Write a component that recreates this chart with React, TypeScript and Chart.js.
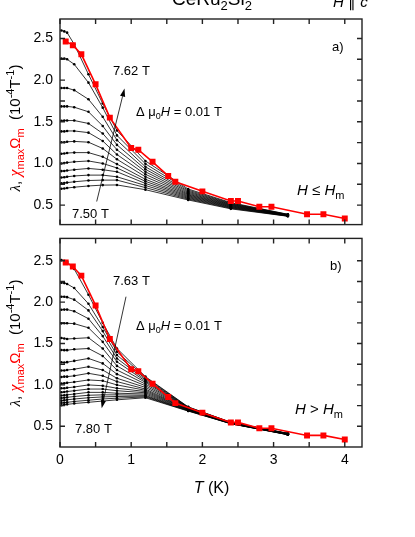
import React, { useEffect, useRef } from 'react';
import { Chart, registerables } from 'chart.js';
Chart.register(...registerables);

const SANS = '"Liberation Sans", Arial, sans-serif';
const SERIF = '"Liberation Serif", "DejaVu Serif", serif';

// temperatures (K) of the field-sweep curves
const T_POINTS = [0.02, 0.06, 0.1, 0.2, 0.4, 0.6, 0.8, 1.2, 1.8, 2.4, 3.2];

// red squares: chi_max * Omega_m
const RED_T = [0.08, 0.18, 0.3, 0.5, 0.7, 1.0, 1.1, 1.3, 1.52, 1.62, 2.0, 2.4, 2.5, 2.8, 2.97, 3.47, 3.7, 4.0];
const RED_TOP = [2.465, 2.42, 2.31, 1.95, 1.55, 1.185, 1.165, 1.02, 0.85, 0.78, 0.665, 0.55, 0.55, 0.48, 0.48, 0.39, 0.39, 0.34];
const RED_BOT = [2.48, 2.43, 2.32, 1.96, 1.555, 1.19, 1.165, 1.015, 0.853, 0.78, 0.665, 0.547, 0.547, 0.476, 0.476, 0.39, 0.39, 0.34];

// panel a) fields 7.50 ... 7.62 T
const FIELDS_TOP = ['7.50', '7.51', '7.52', '7.53', '7.54', '7.55', '7.56', '7.57', '7.58', '7.59', '7.60', '7.61', '7.62'];
const CURVES_TOP = [
  [0.696, 0.7, 0.705, 0.715, 0.73, 0.74, 0.742, 0.685, 0.562, 0.455, 0.366],
  [0.762, 0.765, 0.77, 0.78, 0.795, 0.8, 0.8, 0.71, 0.572, 0.462, 0.368],
  [0.831, 0.835, 0.84, 0.85, 0.86, 0.86, 0.84, 0.735, 0.582, 0.468, 0.37],
  [0.908, 0.91, 0.915, 0.925, 0.94, 0.925, 0.9, 0.76, 0.592, 0.474, 0.372],
  [1.0, 1.005, 1.01, 1.02, 1.03, 1.0, 0.946, 0.785, 0.602, 0.48, 0.374],
  [1.116, 1.12, 1.125, 1.13, 1.13, 1.08, 0.992, 0.81, 0.612, 0.486, 0.376],
  [1.254, 1.255, 1.26, 1.265, 1.255, 1.18, 1.05, 0.84, 0.622, 0.492, 0.378],
  [1.385, 1.385, 1.39, 1.39, 1.37, 1.27, 1.107, 0.87, 0.632, 0.498, 0.38],
  [1.512, 1.515, 1.515, 1.515, 1.48, 1.36, 1.165, 0.9, 0.643, 0.504, 0.382],
  [1.685, 1.685, 1.685, 1.675, 1.62, 1.45, 1.223, 0.93, 0.655, 0.51, 0.384],
  [1.905, 1.905, 1.905, 1.88, 1.77, 1.56, 1.28, 0.96, 0.667, 0.516, 0.386],
  [2.26, 2.26, 2.25, 2.19, 1.97, 1.67, 1.337, 0.995, 0.68, 0.523, 0.388],
  [2.596, 2.585, 2.57, 2.43, 2.07, 1.72, 1.395, 1.03, 0.693, 0.53, 0.39],
];

// panel b) fields 7.63 ... 7.80 T
const FIELDS_BOT = ['7.63', '7.64', '7.65', '7.66', '7.67', '7.68', '7.69', '7.70', '7.71', '7.72', '7.73', '7.74', '7.75', '7.76', '7.77', '7.78', '7.79', '7.80'];
const CURVES_BOT = [
  [2.508, 2.5, 2.49, 2.4, 2.09, 1.75, 1.44, 1.1, 0.735, 0.548, 0.415],
  [2.234, 2.23, 2.22, 2.17, 1.98, 1.7, 1.4, 1.09, 0.732, 0.547, 0.414],
  [2.065, 2.065, 2.06, 2.03, 1.9, 1.65, 1.36, 1.075, 0.729, 0.546, 0.413],
  [1.908, 1.91, 1.91, 1.89, 1.8, 1.59, 1.32, 1.06, 0.726, 0.545, 0.412],
  [1.744, 1.745, 1.745, 1.74, 1.69, 1.52, 1.28, 1.045, 0.723, 0.544, 0.411],
  [1.567, 1.56, 1.555, 1.56, 1.57, 1.44, 1.23, 1.03, 0.72, 0.543, 0.41],
  [1.422, 1.42, 1.42, 1.43, 1.44, 1.35, 1.18, 1.01, 0.717, 0.542, 0.409],
  [1.273, 1.27, 1.275, 1.29, 1.32, 1.26, 1.13, 0.99, 0.714, 0.541, 0.408],
  [1.175, 1.175, 1.18, 1.19, 1.22, 1.18, 1.08, 0.97, 0.711, 0.54, 0.407],
  [1.096, 1.1, 1.1, 1.11, 1.14, 1.11, 1.04, 0.95, 0.708, 0.539, 0.406],
  [1.018, 1.02, 1.025, 1.035, 1.06, 1.05, 1.0, 0.935, 0.705, 0.538, 0.405],
  [0.959, 0.96, 0.965, 0.975, 1.0, 0.99, 0.96, 0.92, 0.702, 0.537, 0.404],
  [0.912, 0.915, 0.92, 0.93, 0.95, 0.95, 0.93, 0.905, 0.699, 0.536, 0.403],
  [0.873, 0.875, 0.88, 0.89, 0.91, 0.91, 0.9, 0.89, 0.696, 0.535, 0.402],
  [0.841, 0.845, 0.85, 0.86, 0.875, 0.88, 0.88, 0.875, 0.693, 0.534, 0.401],
  [0.81, 0.815, 0.82, 0.83, 0.845, 0.855, 0.86, 0.865, 0.69, 0.533, 0.4],
  [0.782, 0.785, 0.79, 0.8, 0.815, 0.83, 0.84, 0.855, 0.687, 0.532, 0.399],
  [0.755, 0.76, 0.765, 0.775, 0.79, 0.805, 0.82, 0.845, 0.684, 0.531, 0.398],
];

const X_TICKS = [0, 1, 2, 3, 4];
const X_TICK_MARKS = [0, 0.5, 1, 1.5, 2, 2.5, 3, 3.5, 4];
const Y_TICKS = [0.5, 1.0, 1.5, 2.0, 2.5];
const Y_TICK_MARKS = [0.5, 0.75, 1.0, 1.25, 1.5, 1.75, 2.0, 2.25, 2.5];

type Run = { t: string; f: string; c?: string; dy?: number };

function drawRuns(ctx: CanvasRenderingContext2D, x: number, y: number, runs: Run[], center = false) {
  ctx.save();
  ctx.textBaseline = 'alphabetic';
  ctx.textAlign = 'left';
  let w = 0;
  for (const r of runs) { ctx.font = r.f; w += ctx.measureText(r.t).width; }
  let cx = center ? x - w / 2 : x;
  for (const r of runs) {
    ctx.font = r.f;
    ctx.fillStyle = r.c || '#000';
    ctx.fillText(r.t, cx, y + (r.dy || 0));
    cx += ctx.measureText(r.t).width;
  }
  ctx.restore();
}

function drawArrow(ctx: CanvasRenderingContext2D, x1: number, y1: number, x2: number, y2: number) {
  ctx.save();
  ctx.strokeStyle = '#000';
  ctx.fillStyle = '#000';
  ctx.lineWidth = 0.8;
  const ang = Math.atan2(y2 - y1, x2 - x1);
  const L = 8, W = 2.6;
  const bx = x2 - L * Math.cos(ang), by = y2 - L * Math.sin(ang);
  ctx.beginPath(); ctx.moveTo(x1, y1); ctx.lineTo(bx, by); ctx.stroke();
  ctx.beginPath();
  ctx.moveTo(x2, y2);
  ctx.lineTo(bx + W * Math.sin(ang), by - W * Math.cos(ang));
  ctx.lineTo(bx - W * Math.sin(ang), by + W * Math.cos(ang));
  ctx.closePath(); ctx.fill();
  ctx.restore();
}

const f = (size: number, style = '') => `${style} ${size}px ${SANS}`.trim();

function yTitle(ctx: CanvasRenderingContext2D, x: number, y: number) {
  ctx.save();
  ctx.translate(x, y);
  ctx.rotate(-Math.PI / 2);
  drawRuns(ctx, 0, 0, [
    { t: 'λ', f: `italic 15px ${SERIF}` },
    { t: ', ', f: f(15) },
    { t: 'χ', f: `italic 16px ${SERIF}`, c: '#ff0000' },
    { t: 'max', f: f(11), c: '#ff0000', dy: 4 },
    { t: 'Ω', f: f(15), c: '#ff0000' },
    { t: 'm', f: f(11), c: '#ff0000', dy: 4 },
    { t: '  (10', f: f(15) },
    { t: '-4', f: f(11), dy: -6 },
    { t: 'T', f: f(15) },
    { t: '-1', f: f(11), dy: -6 },
    { t: ')', f: f(15) },
  ], true);
  ctx.restore();
}

const framePlugin = {
  id: 'frame',
  afterDatasetsDraw(chart: any) {
    const { ctx, chartArea: a, scales } = chart;
    ctx.save();
    ctx.strokeStyle = '#222';
    ctx.lineWidth = 1.4;
    ctx.strokeRect(a.left, a.top, a.right - a.left, a.bottom - a.top);
    ctx.beginPath();
    for (const t of X_TICK_MARKS) {
      const px = scales.x.getPixelForValue(t);
      ctx.moveTo(px, a.bottom); ctx.lineTo(px, a.bottom - 5);
      ctx.moveTo(px, a.top); ctx.lineTo(px, a.top + 5);
    }
    for (const v of Y_TICK_MARKS) {
      const py = scales.y.getPixelForValue(v);
      ctx.moveTo(a.left, py); ctx.lineTo(a.left + 5, py);
      ctx.moveTo(a.right, py); ctx.lineTo(a.right - 5, py);
    }
    ctx.stroke();
    ctx.restore();
  },
};

const topAnnot = {
  id: 'topAnnot',
  afterDraw(chart: any) {
    const ctx = chart.ctx as CanvasRenderingContext2D;
    drawRuns(ctx, 172, 5, [
      { t: 'CeRu', f: f(19) }, { t: '2', f: f(13), dy: 5 }, { t: 'Si', f: f(19) }, { t: '2', f: f(13), dy: 5 },
    ]);
    drawRuns(ctx, 333, 7, [
      { t: 'H', f: f(15, 'italic') }, { t: ' ∥ ', f: f(15) }, { t: 'c', f: f(15, 'italic') },
    ]);
    yTitle(ctx, 20, 128);
    drawRuns(ctx, 113, 74.5, [{ t: `${FIELDS_TOP[FIELDS_TOP.length - 1]} T`, f: f(13) }]);
    drawRuns(ctx, 72, 218, [{ t: `${FIELDS_TOP[0]} T`, f: f(13) }]);
    drawArrow(ctx, 96.7, 201.5, 124.5, 88.5);
    drawRuns(ctx, 136, 116, [
      { t: 'Δ μ', f: f(13) }, { t: '0', f: f(9), dy: 3 }, { t: 'H', f: f(13, 'italic') }, { t: ' = 0.01 T', f: f(13) },
    ]);
    drawRuns(ctx, 332, 51, [{ t: 'a)', f: f(13) }]);
    drawRuns(ctx, 297, 195, [
      { t: 'H', f: f(15, 'italic') }, { t: ' ≤ ', f: f(15) }, { t: 'H', f: f(15, 'italic') }, { t: 'm', f: f(11), dy: 4 },
    ]);
  },
};

const OY = 223;
const botAnnot = {
  id: 'botAnnot',
  afterDraw(chart: any) {
    const ctx = chart.ctx as CanvasRenderingContext2D;
    yTitle(ctx, 20, 343 - OY);
    drawRuns(ctx, 113, 285 - OY, [{ t: `${FIELDS_BOT[0]} T`, f: f(13) }]);
    drawRuns(ctx, 75, 432.5 - OY, [{ t: `${FIELDS_BOT[FIELDS_BOT.length - 1]} T`, f: f(13) }]);
    drawArrow(ctx, 126, 296.7 - OY, 101.7, 408.3 - OY);
    drawRuns(ctx, 136, 329.5 - OY, [
      { t: 'Δ μ', f: f(13) }, { t: '0', f: f(9), dy: 3 }, { t: 'H', f: f(13, 'italic') }, { t: ' = 0.01 T', f: f(13) },
    ]);
    drawRuns(ctx, 330, 269.5 - OY, [{ t: 'b)', f: f(13) }]);
    drawRuns(ctx, 295, 413.5 - OY, [
      { t: 'H', f: f(15, 'italic') }, { t: ' > ', f: f(15) }, { t: 'H', f: f(15, 'italic') }, { t: 'm', f: f(11), dy: 4 },
    ]);
    drawRuns(ctx, 211.5, 492.5 - OY, [{ t: 'T', f: f(16, 'italic') }, { t: ' (K)', f: f(16) }], true);
  },
};

function makeConfig(isTop: boolean): any {
  const curves = isTop ? CURVES_TOP : CURVES_BOT;
  const red = isTop ? RED_TOP : RED_BOT;
  const datasets: any[] = [
    {
      data: RED_T.map((t, i) => ({ x: t, y: red[i] })),
      borderColor: '#ff0000', backgroundColor: '#ff0000', borderWidth: 1.6,
      pointStyle: 'rect', pointRadius: 4.2, pointBorderWidth: 0, order: 0, tension: 0,
    },
    ...curves.map((vals) => ({
      data: T_POINTS.map((t, i) => ({ x: t, y: vals[i] })),
      borderColor: '#000', backgroundColor: '#000', borderWidth: 0.8,
      pointStyle: 'circle', pointRadius: 1.3, pointBorderWidth: 0, order: 1, tension: 0,
    })),
  ];
  return {
    type: 'line',
    data: { datasets },
    options: {
      responsive: false, animation: false, devicePixelRatio: 1, events: [],
      layout: { padding: { left: 0, right: 53, top: isTop ? 19 : 10, bottom: 0 } },
      plugins: { legend: { display: false }, tooltip: { enabled: false } },
      scales: {
        x: {
          type: 'linear', min: 0, max: 4.242,
          grid: { display: false, drawTicks: false }, border: { display: false },
          ticks: { display: !isTop, color: '#000', font: { family: SANS, size: 14 }, padding: 5, maxRotation: 0, autoSkip: false },
          afterBuildTicks: (s: any) => { s.ticks = X_TICKS.map((v) => ({ value: v })); },
          afterFit: (s: any) => { s.height = isTop ? 7 : 90; },
        },
        y: {
          type: 'linear', min: isTop ? 0.266 : 0.25, max: isTop ? 2.734 : 2.77,
          grid: { display: false, drawTicks: false }, border: { display: false },
          ticks: { color: '#000', font: { family: SANS, size: 14 }, padding: 7, autoSkip: false, callback: (v: any) => Number(v).toFixed(1) },
          afterBuildTicks: (s: any) => { s.ticks = Y_TICKS.map((v) => ({ value: v })); },
          afterFit: (s: any) => { s.width = 60; },
        },
      },
    },
    plugins: [framePlugin, isTop ? topAnnot : botAnnot],
  };
}

export default function App() {
  const topRef = useRef<HTMLCanvasElement>(null);
  const botRef = useRef<HTMLCanvasElement>(null);
  useEffect(() => {
    const c1 = new Chart(topRef.current as HTMLCanvasElement, makeConfig(true));
    const c2 = new Chart(botRef.current as HTMLCanvasElement, makeConfig(false));
    return () => { c1.destroy(); c2.destroy(); };
  }, []);
  return (
    <div style={{ position: 'absolute', left: 0, top: 0, width: 415, height: 537, background: '#fff' }}>
      <canvas ref={topRef} width={415} height={240} style={{ position: 'absolute', left: 0, top: 0, width: 415, height: 240 }} />
      <canvas ref={botRef} width={415} height={314} style={{ position: 'absolute', left: 0, top: OY, width: 415, height: 314 }} />
    </div>
  );
}
